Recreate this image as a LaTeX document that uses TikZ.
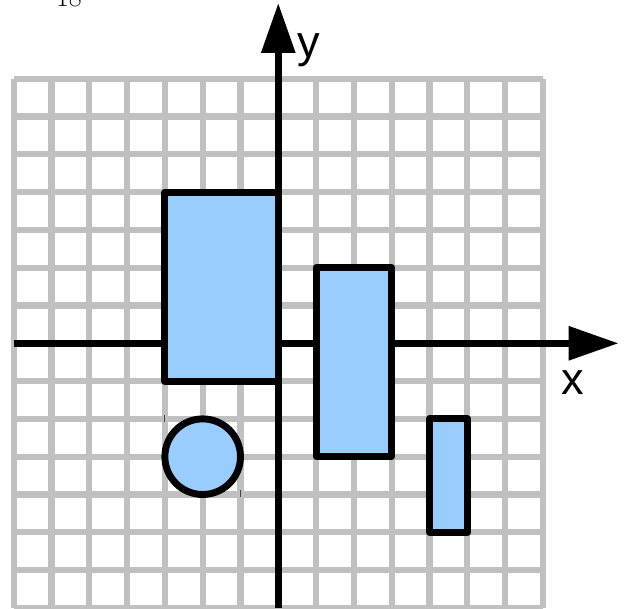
\documentclass[tikz,border=0pt]{standalone}
\usepackage{fontspec}
\newfontfamily\axisfont{Liberation Sans}
\usetikzlibrary{arrows.meta, positioning}
\definecolor{shapeblue}{HTML}{99CCFF}
\definecolor{gridgray}{HTML}{C0C0C0}

\begin{document}
\begin{tikzpicture}[
    gridline/.style={
        draw=gridgray,
        line width=4.7pt
    },
    axis/.style={
        line width=4.9pt,
        -{Triangle[length=1.32cm, width=0.87cm]}
    },
    shapebox/.style={
        draw=black,
        fill=shapeblue,
        line width=5.2pt,
        line join=round
    },
    axislabel/.style={
        font=\axisfont\fontsize{34}{34}\selectfont,
        inner sep=0pt,
        anchor=base
    },
    marker/.style={
        draw=black!75,
        line width=0.7pt
    }
]
    \useasboundingbox (-7.362,-7.029) rectangle (9.252,9.082);

    % Grid
    \draw [gridline] (-7,-7) grid (7,7);

    % Axes
    \coordinate (xstart) at (-7,0);
    \coordinate (xend) at (9,0);
    \coordinate (ystart) at (0,-7);
    \coordinate (yend) at (0,9);
    \draw [axis] (xstart) -- (xend);
    \draw [axis] (ystart) -- (yend);

    % Shapes
    \draw [shapebox] (-3,-1) rectangle (0,4);
    \draw [shapebox] (1,-3) rectangle (3,2);
    \draw [shapebox] (4,-5) rectangle (5,-2);
    \draw [shapebox] (-2,-3) circle (1);

    % Corner marks of the circle
    \draw [marker] (-3,-1.9) -- (-3,-2.07);
    \draw [marker] (-1,-3.88) -- (-1,-4.07);

    % Labels
    \node [axislabel] (xlabel) at (7.8,-1.36) {x};
    \node [axislabel] (ylabel) at (0.82,7.55) {y};
    \node [anchor=base, inner sep=0pt, font=\fontsize{21}{21}\selectfont] (pagenum) at (-5.54,8.92) {18};
\end{tikzpicture}
\end{document}
